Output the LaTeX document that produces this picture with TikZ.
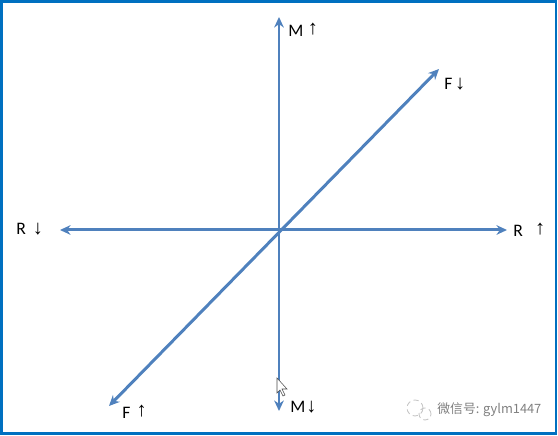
\documentclass[tikz,border=0pt]{standalone}
\usepackage{fontspec}
\usepackage{tkz-euclide}
\usetikzlibrary{arrows.meta}
\setmainfont{Carlito}
\newfontfamily\arrowfont{Liberation Sans}
\newfontfamily\cjk{Noto Sans CJK SC}
\definecolor{axisblue}{RGB}{79,129,189}
\definecolor{frameblue}{RGB}{0,112,192}
\tikzset{
  axisline/.style={axisblue,line width=1.7pt,
    {Stealth[length=6pt,width=5.5pt]}-{Stealth[length=6pt,width=5.5pt]}},
  lbl/.style={anchor=west,inner sep=0pt,font=\fontsize{10}{12}\selectfont}
}
\newcommand{\up}{{\arrowfont\fontsize{11.5}{12}\selectfont\raisebox{1pt}{\char"2191}}}
\newcommand{\down}{{\arrowfont\fontsize{11.5}{12}\selectfont\char"2193}}

\begin{document}
\begin{tikzpicture}
    \useasboundingbox (0,0) rectangle (11.16,8.72);
    \tkzDefPoint(5.58,4.12){O}
    \tkzDefPoint(5.58,8.38){Mt}
    \tkzDefPoint(5.58,0.50){Mb}
    \tkzDefPoint(1.20,4.12){Rl}
    \tkzDefPoint(10.14,4.12){Rr}
    \tkzDefPoint(8.78,7.34){Ft}
    \tkzDefPoint(2.18,0.60){Fb}
    \tkzDrawSegments[axisline](Mb,Mt Rl,Rr Fb,Ft)
    % labels
    \node[lbl] (Mup)   at (5.76,8.12)  {M\hspace{2.5pt}\up};
    \node[lbl] (Mdown) at (5.80,0.58)  {M\hspace{0.5pt}\down};
    \node[lbl] (Rdown) at (0.32,4.14)  {R\hspace{4pt}\down};
    \node[lbl] (Rup)   at (10.26,4.12) {R\hspace{7pt}\up};
    \node[lbl] (Fdown) at (8.88,7.04)  {F\hspace{1.5pt}\down};
    \node[lbl] (Fup)   at (2.44,0.48)  {F\hspace{3.5pt}\up};
    % watermark
    \draw[gray!45,densely dashed,line width=0.5pt] (8.30,0.56) circle (0.16);
    \draw[gray!45,densely dashed,line width=0.5pt] (8.50,0.44) circle (0.12);
    \node[anchor=west,inner sep=0pt,text=gray,font=\cjk\fontsize{7.3}{9}\selectfont]
      (wm) at (8.74,0.52) {微信号: gylm1447};
    % cursor
    \draw[black!70,fill=white,line width=0.3pt] (5.54,1.16) -- (5.54,0.86) -- (5.60,0.92)
      -- (5.66,0.80) -- (5.70,0.82) -- (5.64,0.94) -- (5.74,0.94) -- cycle;
    % frame
    \draw[frameblue,line width=1.7pt] (0.03,0.04) rectangle (11.12,8.69);
\end{tikzpicture}
\end{document}
